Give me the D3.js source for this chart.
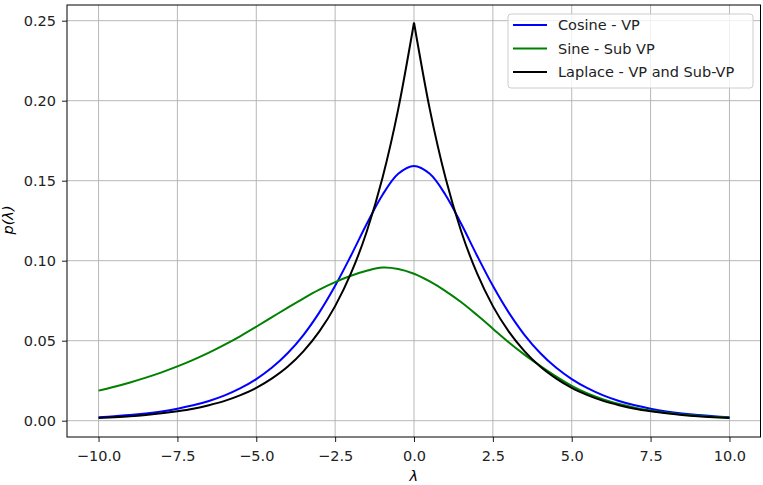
<!DOCTYPE html>
<html>
<head>
<meta charset="utf-8">
<script src="https://cdn.jsdelivr.net/npm/d3@7"></script>
<style>
  body { margin: 0; background: #fff; }
  svg { display: block; font-family: "DejaVu Sans", sans-serif; }
</style>
</head>
<body>
<svg id="svg" width="763" height="485"></svg>
<script>
// lambda sample points
var lambdas = [-10,-9.5,-9,-8.5,-8,-7.5,-7,-6.5,-6,-5.5,-5,-4.5,-4,-3.5,-3,-2.5,-2,-1.5,-1,-0.5,
  0,0.5,1,1.5,2,2.5,3,3.5,4,4.5,5,5.5,6,6.5,7,7.5,8,8.5,9,9.5,10];

var cosineVP = [0.0021,0.0028,0.0035,0.0045,0.0058,0.0075,0.0096,0.0123,0.0158,0.0203,
  0.0260,0.0332,0.0423,0.0537,0.0677,0.0843,0.1031,0.1229,0.1411,0.1543,
  0.1592,0.1543,0.1411,0.1229,0.1031,0.0843,0.0677,0.0537,0.0423,0.0332,
  0.0260,0.0203,0.0158,0.0123,0.0096,0.0075,0.0058,0.0045,0.0035,0.0028,0.0021];

var sineSubVP = [0.0188,0.0212,0.0239,0.0269,0.0302,0.0339,0.0380,0.0425,0.0475,0.0529,
  0.0587,0.0647,0.0707,0.0765,0.0819,0.0866,0.0906,0.0937,0.0957,0.0948,
  0.0918,0.0870,0.0810,0.0740,0.0660,0.0575,0.0490,0.0413,0.0343,0.0277,
  0.0218,0.0170,0.0133,0.0104,0.0081,0.0063,0.0049,0.0039,0.0031,0.0024,0.0019];

var laplace = [0.0017,0.0022,0.0028,0.0036,0.0046,0.0059,0.0075,0.0097,0.0124,0.0160,
  0.0205,0.0264,0.0338,0.0435,0.0558,0.0716,0.0920,0.1181,0.1516,0.1947,
  0.2488,0.1947,0.1516,0.1181,0.0920,0.0716,0.0558,0.0435,0.0338,0.0264,
  0.0205,0.0160,0.0124,0.0097,0.0075,0.0059,0.0046,0.0036,0.0028,0.0022,0.0017];

var xTicks = [-10,-7.5,-5,-2.5,0,2.5,5,7.5,10];
var yTicks = [0,0.05,0.1,0.15,0.2,0.25];

var seriesNames = ["Cosine - VP","Sine - Sub VP","Laplace - VP and Sub-VP"];
var seriesColors = ["#0000ff","#008000","#000000"];

var svg = d3.select('#svg');
var box = {left:67, right:760.5, top:5, bottom:437};

var xScale = d3.scaleLinear().domain([-11,11]).range([box.left, box.right+0.5]);
var yScale = d3.scaleLinear().domain([-0.0102,0.2598]).range([box.bottom, box.top]);

// grid
var grid = svg.append("g");
grid.selectAll(".gx").data(xTicks).enter().append("line")
  .attr("x1",function(d){return xScale(d);}).attr("x2",function(d){return xScale(d);})
  .attr("y1",box.top).attr("y2",box.bottom)
  .attr("stroke","#b0b0b0").attr("stroke-width",0.9);
grid.selectAll(".gy").data(yTicks).enter().append("line")
  .attr("y1",function(d){return yScale(d);}).attr("y2",function(d){return yScale(d);})
  .attr("x1",box.left).attr("x2",box.right)
  .attr("stroke","#b0b0b0").attr("stroke-width",0.9);

// curves
function pts(ys){ return lambdas.map(function(l,i){ return [l, ys[i]]; }); }
function lineWith(curve){
  return d3.line()
    .x(function(d){return xScale(d[0]);})
    .y(function(d){return yScale(d[1]);})
    .curve(curve);
}
var smooth = lineWith(d3.curveCatmullRom.alpha(0.5));
var mono = lineWith(d3.curveMonotoneX);

var curves = svg.append("g").attr("fill","none").attr("stroke-width",2);
curves.append("path").attr("d",smooth(pts(cosineVP))).attr("stroke",seriesColors[0]);
curves.append("path").attr("d",smooth(pts(sineSubVP))).attr("stroke",seriesColors[1]);
// laplace has a cusp at 0: draw each side separately
var lp = pts(laplace);
curves.append("path").attr("d",mono(lp.filter(function(d){return d[0]<=0;}))).attr("stroke",seriesColors[2]);
curves.append("path").attr("d",mono(lp.filter(function(d){return d[0]>=0;}))).attr("stroke",seriesColors[2]);

// axes
var xAxis = svg.append("g")
  .attr("transform","translate(0,"+box.bottom+")")
  .call(d3.axisBottom(xScale).tickValues(xTicks).tickFormat(d3.format(".1f")).tickSize(5).tickPadding(8.5));
var yAxis = svg.append("g")
  .attr("transform","translate("+box.left+",0)")
  .call(d3.axisLeft(yScale).tickValues(yTicks).tickFormat(d3.format(".2f")).tickSize(5).tickPadding(6));
[xAxis,yAxis].forEach(function(a){
  a.select(".domain").remove();
  a.selectAll("text").attr("font-size","14.5px").attr("fill","#222").attr("font-family","DejaVu Sans");
  a.selectAll("line").attr("stroke","#000").attr("stroke-width",0.9);
});

svg.append("rect")
  .attr("x",box.left).attr("y",box.top)
  .attr("width",box.right-box.left).attr("height",box.bottom-box.top)
  .attr("fill","none").attr("stroke","#000").attr("stroke-width",1);

// axis labels
svg.append("text").attr("x",(box.left+box.right)/2).attr("y",481)
  .attr("text-anchor","middle").attr("font-size","14.5px").attr("font-style","italic")
  .text("λ");
svg.append("text").attr("transform","translate(13,220) rotate(-90)")
  .attr("text-anchor","middle").attr("font-size","14.5px").attr("font-style","italic")
  .text("p(λ)");

// legend
var legend = svg.append("g").attr("transform","translate(508,14)");
legend.append("rect").attr("width",245).attr("height",74).attr("rx",3)
  .attr("fill","#fff").attr("fill-opacity",0.8).attr("stroke","#cccccc");
seriesNames.forEach(function(name,i){
  var yy = 11 + i*23.5;
  legend.append("line").attr("x1",5).attr("x2",39).attr("y1",yy).attr("y2",yy)
    .attr("stroke",seriesColors[i]).attr("stroke-width",2);
  legend.append("text").attr("x",50).attr("y",yy).attr("dy","0.35em")
    .attr("font-size","14.5px").attr("fill","#222").text(name);
});
</script>
</body>
</html>
